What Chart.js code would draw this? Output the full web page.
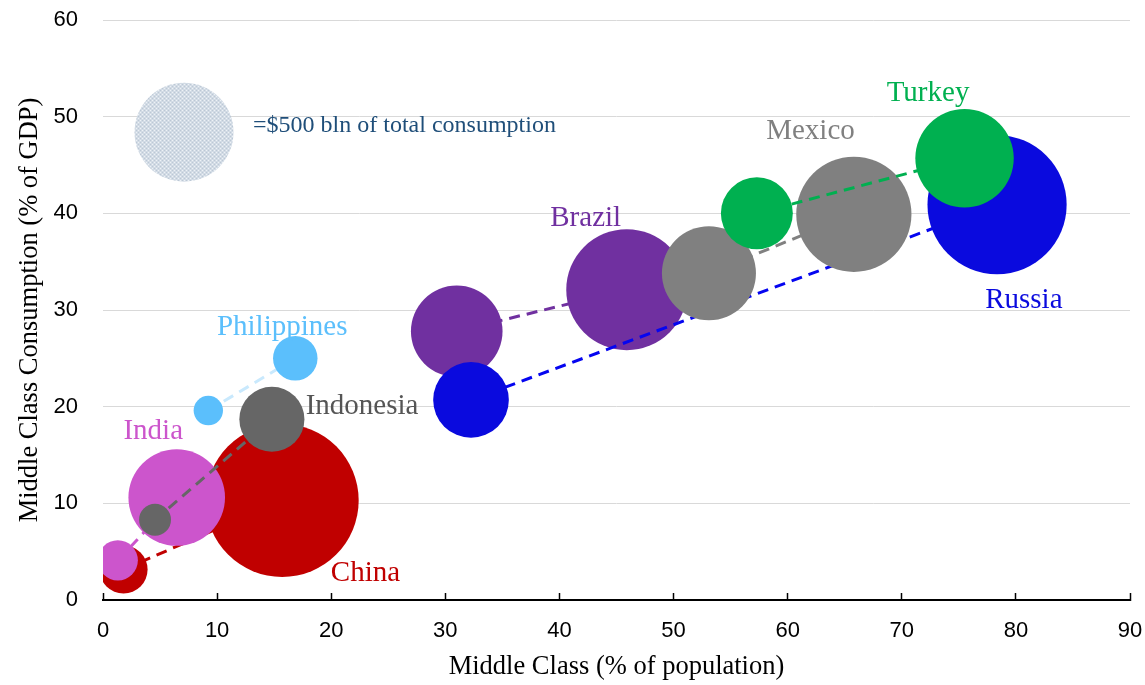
<!DOCTYPE html>
<html><head><meta charset="utf-8">
<script src="https://cdn.jsdelivr.net/npm/chart.js@4.4.1/dist/chart.umd.min.js"></script>
<style>html,body{margin:0;padding:0;background:#fff;} #c{display:block;}</style>
</head><body>
<canvas id="c" width="1145" height="685" style="width:1145px;height:685px"></canvas>
<script>
// ---- data ----
const countries   = ['China','India','Indonesia','Philippines','Brazil','Russia','Mexico','Turkey'];
const shareStart  = [1.8, 1.3, 4.56, 9.23, 31.0, 32.25, 53.1, 57.3];     // middle class, % of population (earlier)
const shareEnd    = [15.7, 6.46, 14.8, 16.85, 45.9, 78.35, 65.8, 75.5];  // (later)
const consStart   = [3.15, 4.1, 8.3, 19.6, 27.8, 20.7, 33.8, 40.0];      // middle class consumption, % of GDP (earlier)
const consEnd     = [10.3, 10.6, 18.7, 25.0, 32.1, 40.9, 39.9, 45.7];    // (later)
const totalStart  = [118, 82, 52, 44, 428, 292, 451, 264];               // total consumption, $ bln (earlier)
const totalEnd    = [1195, 476, 216, 101, 747, 988, 677, 494];           // (later)
const labelX      = [23.0, 4.4, 22.7, 15.7, 42.3, 80.7, 62.0, 72.3];
const labelY      = [2.8, 17.4, 20.0, 28.2, 39.5, 31.0, 48.5, 52.4];
const legendValue = [500];
const legendX     = [7.1];
const legendY     = [48.4];
const legendText  = '=$500 bln of total consumption';
const legendTextX = 13.15;
const legendTextY = 49.1;
const xTicks = [0,10,20,30,40,50,60,70,80,90];
const yTicks = [0,10,20,30,40,50,60];

// ---- styles ----
const bubbleColors = ['#c00000','#cc55cc','#666666','#5bbffc','#7030a0','#0a0ade','#808080','#00b050'];
const lineColors   = ['#c00000','#cc55cc','#666666','#c9e9fd','#7030a0','#0505f0','#808080','#00b050'];
const labelColors  = ['#c00000','#cc55cc','#555555','#5bbffc','#7030a0','#0a0ade','#808080','#00b050'];
const LEGEND_R = 49.5; // pixel radius of the $500 bln reference bubble
const radiusFor = v => LEGEND_R * Math.sqrt(v / 500);
const serif = '"Liberation Serif", "Times New Roman", serif';
const sans = '"Liberation Sans", Arial, sans-serif';

const canvas = document.getElementById('c');
const ctx = canvas.getContext('2d');

function makePattern() {
  const p = document.createElement('canvas'); p.width = 4; p.height = 4;
  const g = p.getContext('2d');
  g.fillStyle = '#d2dbe5'; g.fillRect(0,0,4,4);
  g.fillStyle = '#eef2f6'; g.fillRect(0,0,1,1); g.fillRect(2,2,1,1);
  g.fillStyle = '#bcc8d5'; g.fillRect(2,0,1,1); g.fillRect(0,2,1,1);
  return ctx.createPattern(p, 'repeat');
}

const datasets = [];
datasets.push({
  type: 'bubble',
  label: 'legend',
  data: legendValue.map((v,i) => ({x: legendX[i], y: legendY[i], r: radiusFor(v)})),
  backgroundColor: makePattern(),
  borderWidth: 0,
  order: 100
});
countries.forEach((c, i) => {
  datasets.push({
    type: 'line',
    label: c + ' line',
    data: [{x: shareStart[i], y: consStart[i]}, {x: shareEnd[i], y: consEnd[i]}],
    borderColor: lineColors[i],
    borderWidth: 3,
    borderDash: [11, 7],
    pointRadius: 0,
    fill: false,
    order: -(2*i)
  });
  datasets.push({
    type: 'bubble',
    label: c,
    data: [
      {x: shareStart[i], y: consStart[i], r: radiusFor(totalStart[i])},
      {x: shareEnd[i],   y: consEnd[i],   r: radiusFor(totalEnd[i])}
    ],
    backgroundColor: bubbleColors[i],
    borderWidth: 0,
    hoverRadius: 0,
    clip: 0,
    order: -(2*i + 1)
  });
});

const labelPlugin = {
  id: 'countryLabels',
  afterDatasetsDraw(chart) {
    const {ctx, scales: {x, y}} = chart;
    ctx.save();
    ctx.textAlign = 'center';
    ctx.textBaseline = 'middle';
    ctx.font = '29px ' + serif;
    countries.forEach((c, i) => {
      ctx.fillStyle = labelColors[i];
      ctx.fillText(c, x.getPixelForValue(labelX[i]), y.getPixelForValue(labelY[i]));
    });
    ctx.textAlign = 'left';
    ctx.font = '24px ' + serif;
    ctx.fillStyle = '#1f4e79';
    ctx.fillText(legendText, x.getPixelForValue(legendTextX), y.getPixelForValue(legendTextY));
    ctx.restore();
  }
};

new Chart(ctx, {
  type: 'bubble',
  data: { datasets },
  options: {
    responsive: false,
    animation: false,
    devicePixelRatio: 1,
    events: [],
    layout: { autoPadding: false, padding: { top: 20, right: 15, left: 0, bottom: 0 } },
    plugins: { legend: { display: false }, tooltip: { enabled: false } },
    scales: {
      x: {
        type: 'linear',
        min: 0, max: 90,
        afterBuildTicks: s => { s.ticks = xTicks.map(v => ({value: v})); },
        afterFit: s => { s.height = 85; s.paddingLeft = 0; s.paddingRight = 0; },
        grid: { drawOnChartArea: false, drawTicks: true, tickLength: -7, tickColor: '#000', tickWidth: 1.5 },
        border: { display: true, color: '#000', width: 2 },
        ticks: { color: '#000', font: { family: sans, size: 22 }, padding: 25, maxRotation: 0 },
        title: { display: true, text: 'Middle Class (% of population)', color: '#000',
                 font: { family: serif, size: 26.5 }, padding: { top: 0, bottom: 2 } }
      },
      y: {
        type: 'linear',
        min: 0, max: 60,
        afterBuildTicks: s => { s.ticks = yTicks.map(v => ({value: v})); },
        afterFit: s => { s.width = 103; s.paddingTop = 0; s.paddingBottom = 0; },
        grid: { color: '#d9d9d9', lineWidth: 1, drawTicks: false },
        border: { display: false },
        ticks: { color: '#000', font: { family: sans, size: 22 }, padding: 25 },
        title: { display: true, text: 'Middle Class Consumption (% of GDP)', color: '#000',
                 font: { family: serif, size: 26.5 }, padding: { top: 14, bottom: 0 } }
      }
    }
  },
  plugins: [labelPlugin]
});
</script>
</body></html>
